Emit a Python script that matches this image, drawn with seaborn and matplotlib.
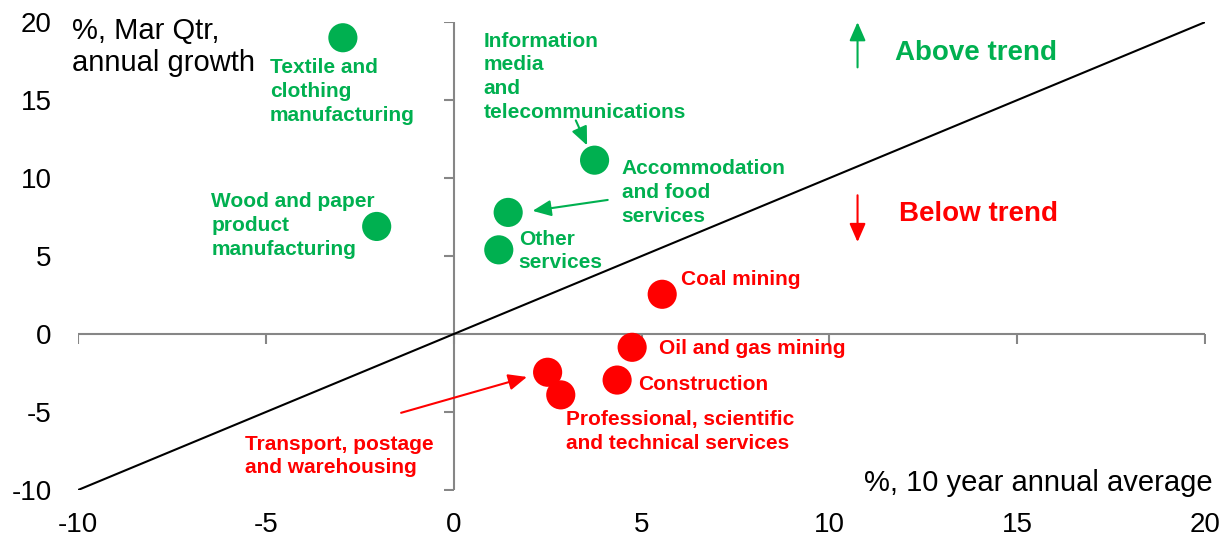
import numpy as np
import pandas as pd
import matplotlib
matplotlib.use('Agg')
import matplotlib.pyplot as plt
import seaborn as sns

sns.set_theme(style='white')
plt.rcParams['font.family'] = ['Liberation Sans', 'DejaVu Sans']
plt.rcParams['axes.unicode_minus'] = False

# Data: industries, 10 year annual average growth vs Mar Qtr annual growth (%)
industries = ['Textile and clothing manufacturing', 'Wood and paper product manufacturing',
              'Information media and telecommunications', 'Accommodation and food services',
              'Other services', 'Coal mining', 'Oil and gas mining', 'Construction',
              'Transport, postage and warehousing', 'Professional, scientific and technical services']
ten_year_avg = [-2.95, -2.05, 3.75, 1.45, 1.2, 5.55, 4.75, 4.35, 2.5, 2.85]
mar_qtr_growth = [19.0, 6.9, 11.15, 7.8, 5.4, 2.55, -0.85, -2.95, -2.45, -3.9]
ticks = [-10, -5, 0, 5, 10, 15, 20]

GREEN = '#00B050'
RED = '#FF0000'
GREY = '#868686'

df = pd.DataFrame({'industry': industries, 'avg': ten_year_avg, 'growth': mar_qtr_growth})
df['trend'] = np.where(df['growth'] > df['avg'], 'Above', 'Below')

fig = plt.figure(figsize=(12.27, 5.39), dpi=100)
ax = fig.add_axes([0.0636, 0.0909, 0.9185, 0.868])

# zero axes with tick marks, like Excel's crossing axes
ax.plot([ticks[0], ticks[-1]], [0, 0], color=GREY, lw=1.5, zorder=1)
ax.plot([0, 0], [ticks[0], ticks[-1]], color=GREY, lw=1.5, zorder=1)
ax.plot(ticks, [0] * len(ticks), ls='none', marker=3, ms=7, mew=1.5, color=GREY, zorder=1)
ax.plot([0] * len(ticks), ticks, ls='none', marker=0, ms=7, mew=1.5, color=GREY, zorder=1)

# trend line y = x
ax.plot([ticks[0], ticks[-1]], [ticks[0], ticks[-1]], color='black', lw=1.5, zorder=2)

sns.scatterplot(data=df, x='avg', y='growth', hue='trend', palette={'Above': GREEN, 'Below': RED},
                s=440, edgecolor='none', legend=False, ax=ax, zorder=3)

# labels (text, x, y, colour)
labels = [
    ('Textile and\nclothing\nmanufacturing', -4.9, 17.7, GREEN),
    ('Wood and paper\nproduct\nmanufacturing', -6.45, 9.1, GREEN),
    ('Information\nmedia\nand\ntelecommunications', 0.8, 19.4, GREEN),
    ('Accommodation\nand food\nservices', 4.47, 11.2, GREEN),
    ('Other\nservices', 1.73, 6.7, GREEN),
    ('Coal mining', 6.04, 4.1, RED),
    ('Oil and gas mining', 5.46, -0.3, RED),
    ('Construction', 4.92, -2.65, RED),
    ('Professional, scientific\nand technical services', 3.0, -4.9, RED),
    ('Transport, postage\nand warehousing', -5.55, -6.45, RED),
]
for txt, x, y, c in labels:
    ax.text(x, y, txt, color=c, fontsize=15, fontweight='bold', ha='left', va='top',
            linespacing=1.32, zorder=4)

# pointer arrows (start, end, colour)
arrows = [
    ((3.25, 13.7), (3.55, 12.1), GREEN),
    ((4.1, 8.6), (2.1, 7.9), GREEN),
    ((-1.4, -5.05), (1.95, -2.75), RED),
    ((10.75, 17.1), (10.75, 20.0), GREEN),
    ((10.75, 8.9), (10.75, 5.9), RED),
]
for (x0, y0), (x1, y1), c in arrows:
    ax.annotate('', xy=(x1, y1), xytext=(x0, y0),
                arrowprops=dict(arrowstyle='-|>,head_length=0.8,head_width=0.35', color=c, lw=1.5,
                                mutation_scale=14, shrinkA=0, shrinkB=0), zorder=4)

ax.text(11.75, 18.0, 'Above trend', color=GREEN, fontsize=20, fontweight='bold', ha='left', va='center')
ax.text(11.85, 7.7, 'Below trend', color=RED, fontsize=20, fontweight='bold', ha='left', va='center')

ax.text(-10.15, 20.35, '%, Mar Qtr,\nannual growth', fontsize=21, ha='left', va='top',
        linespacing=1.2, color='black')
ax.text(20.2, -9.55, '%, 10 year annual average', fontsize=21, ha='right', va='center', color='black')

ax.set_xlim(ticks[0], ticks[-1])
ax.set_ylim(ticks[0], ticks[-1])
ax.set_xticks(ticks)
ax.set_yticks(ticks)
ax.tick_params(axis='both', length=0, labelsize=20, colors='black')
ax.tick_params(axis='y', pad=19)
ax.tick_params(axis='x', pad=16)
for s in ax.spines.values():
    s.set_visible(False)
ax.set_xlabel('')
ax.set_ylabel('')
ax.grid(False)

fig.savefig('out.png', dpi=100)
